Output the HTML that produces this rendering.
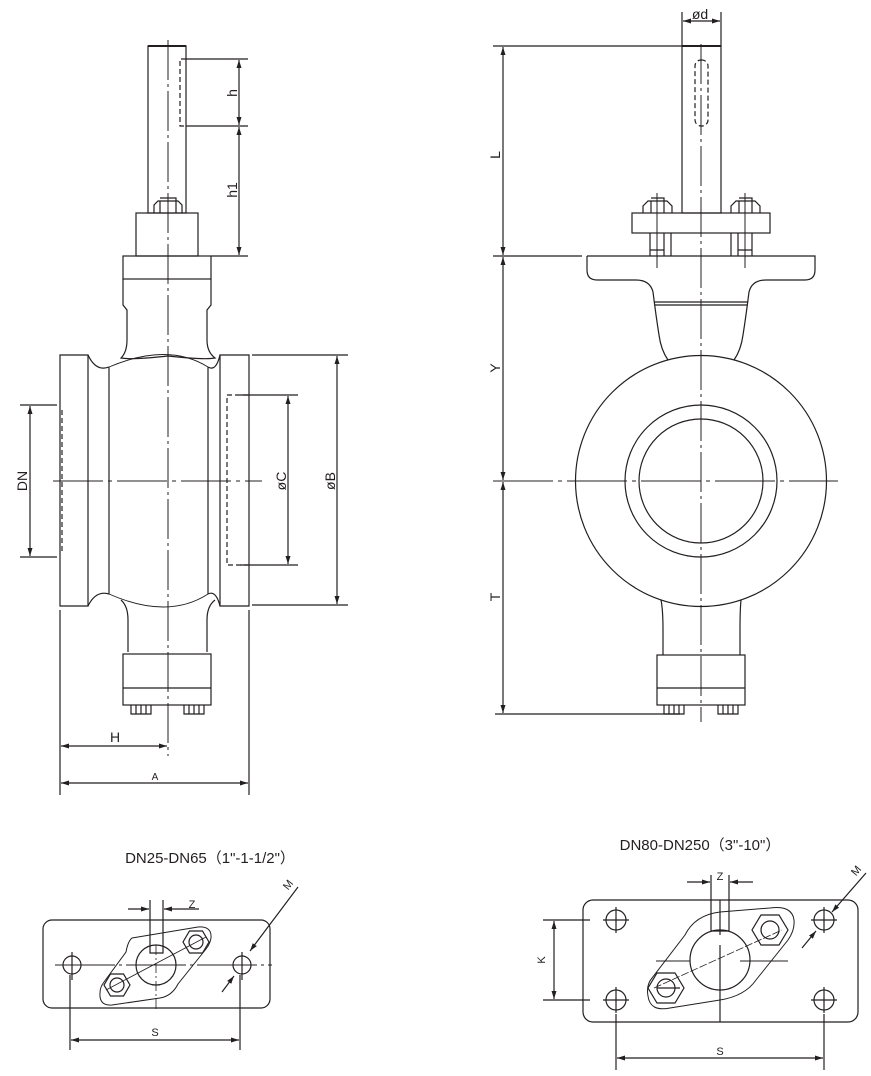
<!DOCTYPE html>
<html><head><meta charset="utf-8"><style>
html,body{margin:0;padding:0;background:#fff;}
svg{display:block;}
text{font-family:"Liberation Sans","Noto Sans CJK SC",sans-serif;fill:#231f20;}
</style></head><body>
<svg width="871" height="1076" viewBox="0 0 871 1076" xmlns="http://www.w3.org/2000/svg">
<defs>
<marker id="ar" markerWidth="8" markerHeight="6" refX="8" refY="3" orient="auto-start-reverse" markerUnits="userSpaceOnUse">
<path d="M0,0.5 L8,3 L0,5.5 z" fill="#231f20"/></marker>
</defs>
<g fill="none" stroke="#231f20" stroke-width="1.2">
<!-- ===== LEFT VIEW ===== -->
<line x1="168" y1="40" x2="168" y2="756" stroke-dasharray="40,4,3,4" stroke-width="1"/>
<line x1="53" y1="481" x2="262" y2="481" stroke-dasharray="50,5,4,5" stroke-width="1"/>
<rect x="148" y="46" width="38" height="167"/>
<line x1="148" y1="46" x2="186" y2="46" stroke-width="2"/>
<path d="M186,59 H180 V126 H186" stroke-dasharray="5,3"/>
<line x1="186" y1="59" x2="248" y2="59"/>
<line x1="186" y1="126" x2="248" y2="126"/>
<line x1="211" y1="256" x2="248" y2="256"/>
<line x1="239" y1="60" x2="239" y2="125" marker-start="url(#ar)" marker-end="url(#ar)"/>
<line x1="239" y1="127" x2="239" y2="255" marker-start="url(#ar)" marker-end="url(#ar)"/>
<path d="M154,213 V205 L158,201 H178 L182,205 V213 M160,201 V213 M176,201 V213 M160,198 H176 V201"/>
<rect x="136" y="213" width="62" height="43"/>
<rect x="123" y="256" width="88" height="23"/>
<path d="M123,279 V305 L127,310 V340 Q127,352 121,358 Q132,360 168,356 Q204,360 215,358 Q207,352 207,340 V310 L211,305 V279"/>
<!-- body -->
<path d="M60,355 H88 V606 H60 Z"/>
<path d="M220,355 H249 V606 H220 Z"/>
<path d="M88,355 Q96,372 109,367 M208,367 Q216,372 220,355"/>
<line x1="109" y1="367" x2="109" y2="594"/>
<line x1="208" y1="367" x2="208" y2="594"/>
<path d="M109,367 Q168,342 208,367" stroke-width="0.9"/>
<path d="M88,606 Q96,590 109,594 M208,594 Q216,590 220,606"/>
<path d="M109,594 Q168,620 208,594" stroke-width="0.9"/>
<path d="M121,600 Q128,606 128,620 V652 M215,600 Q207,606 207,620 V652"/>
<rect x="123" y="654" width="88" height="51"/>
<line x1="123" y1="688" x2="211" y2="688"/>
<path d="M131,705 V714 H151 V705 M136,705 V714 M141,705 V714 M146,705 V714"/>
<path d="M184,705 V714 H204 V705 M189,705 V714 M194,705 V714 M199,705 V714"/>
<path d="M62,410 V553" stroke-dasharray="5,3"/>
<path d="M248,395 H227 V565 H248" stroke-dasharray="5,3"/>
<!-- dims -->
<line x1="20" y1="405" x2="57" y2="405"/>
<line x1="20" y1="557" x2="57" y2="557"/>
<line x1="30" y1="406" x2="30" y2="556" marker-start="url(#ar)" marker-end="url(#ar)"/>
<line x1="240" y1="395" x2="298" y2="395"/>
<line x1="240" y1="565" x2="298" y2="565"/>
<line x1="288" y1="396" x2="288" y2="564" marker-start="url(#ar)" marker-end="url(#ar)"/>
<line x1="252" y1="355" x2="348" y2="355"/>
<line x1="252" y1="605" x2="348" y2="605"/>
<line x1="337" y1="356" x2="337" y2="604" marker-start="url(#ar)" marker-end="url(#ar)"/>
<line x1="60" y1="610" x2="60" y2="795"/>
<line x1="249" y1="610" x2="249" y2="795"/>
<line x1="61" y1="746" x2="167" y2="746" marker-start="url(#ar)" marker-end="url(#ar)"/>
<line x1="61" y1="783" x2="248" y2="783" marker-start="url(#ar)" marker-end="url(#ar)"/>

<!-- ===== RIGHT VIEW ===== -->
<line x1="701" y1="44" x2="701" y2="722" stroke-dasharray="40,4,3,4" stroke-width="1"/>
<line x1="493" y1="481" x2="838" y2="481" stroke-dasharray="60,5,4,5" stroke-width="1"/>
<rect x="682" y="46" width="39" height="167"/>
<line x1="682" y1="46" x2="721" y2="46" stroke-width="2"/>
<rect x="695" y="60" width="13" height="66" rx="6" stroke-dasharray="5,3"/>
<line x1="682" y1="12" x2="682" y2="46"/>
<line x1="721" y1="12" x2="721" y2="46"/>
<line x1="683" y1="21" x2="720" y2="21" marker-start="url(#ar)" marker-end="url(#ar)"/>
<line x1="493" y1="46" x2="682" y2="46"/>
<line x1="503" y1="47" x2="503" y2="255" marker-start="url(#ar)" marker-end="url(#ar)"/>
<line x1="493" y1="256" x2="582" y2="256"/>
<line x1="503" y1="257" x2="503" y2="480" marker-start="url(#ar)" marker-end="url(#ar)"/>
<line x1="503" y1="482" x2="503" y2="713" marker-start="url(#ar)" marker-end="url(#ar)"/>
<line x1="495" y1="714" x2="680" y2="714"/>
<rect x="632" y="213" width="138" height="20"/>
<path d="M643,213 V206 L648,201 H667 L672,206 V213 M651,201 V213 M664,201 V213 M651,198 H664 V201"/>
<path d="M731,213 V206 L736,201 H755 L760,206 V213 M739,201 V213 M752,201 V213 M739,198 H752 V201"/>
<line x1="657" y1="193" x2="657" y2="268" stroke-width="1"/>
<line x1="745" y1="193" x2="745" y2="268" stroke-width="1"/>
<path d="M650,233 V256 M664,233 V256 M671,233 V256 M650,250 H664"/>
<path d="M731,233 V256 M738,233 V256 M752,233 V256 M738,250 H752"/>
<path d="M587,256 H815 V270 Q815,280 805,280 H766 Q752,280 749,292 Q746,316 743,335 Q741,350 734,360"/>
<path d="M587,256 V270 Q587,280 597,280 H636 Q650,280 653,292 Q656,316 659,335 Q661,350 668,360"/>
<line x1="654" y1="302" x2="748" y2="302"/>
<line x1="655" y1="305" x2="747" y2="305"/>
<circle cx="701" cy="481" r="125.5"/>
<circle cx="701" cy="481" r="76"/>
<circle cx="701" cy="481" r="62"/>
<path d="M661,600 Q663,610 663,630 V655 M741,600 Q740,610 740,630 V655"/>
<rect x="657" y="655" width="88" height="50"/>
<line x1="657" y1="688" x2="745" y2="688"/>
<path d="M664,705 V714 H684 V705 M669,705 V714 M674,705 V714 M679,705 V714"/>
<path d="M718,705 V714 H738 V705 M723,705 V714 M728,705 V714 M733,705 V714"/>

<!-- ===== BOTTOM LEFT ===== -->
<rect x="43" y="920" width="227" height="88" rx="9"/>
<line x1="55" y1="965" x2="272" y2="965" stroke-dasharray="60,4,3,4" stroke-width="1"/>
<circle cx="72" cy="965" r="9"/><circle cx="242" cy="965" r="9"/>
<line x1="72" y1="952" x2="72" y2="980"/><line x1="242" y1="952" x2="242" y2="980"/>
<circle cx="156" cy="965" r="20"/>
<path d="M132,938 L198,927 Q212,926 211,938 Q210,944 206,949 L178,984 Q172,996 160,998 L112,1005 Q99,1006 100,993 Q100,987 104,982 L126,952 Q128,941 132,938 Z" stroke-width="1"/>
<polygon points="130,985 123.5,996 110.5,996 104,985 110.5,974 123.5,974"/><circle cx="117" cy="985" r="7"/>
<polygon points="209,942 202.5,953 189.5,953 183,942 189.5,931 202.5,931"/><circle cx="196" cy="942" r="7"/>
<line x1="106" y1="990" x2="206" y2="937" stroke-width="0.8"/>
<line x1="156" y1="945" x2="156" y2="1010" stroke-dasharray="10,3,2,3" stroke-width="0.8"/>
<path d="M150,900 V953 H163 V900"/>
<line x1="128" y1="909" x2="149" y2="909" marker-end="url(#ar)"/>
<line x1="199" y1="909" x2="164" y2="909" marker-end="url(#ar)"/>
<line x1="298" y1="887" x2="250" y2="951" marker-end="url(#ar)"/>
<line x1="222" y1="992" x2="234" y2="976" marker-end="url(#ar)"/>
<line x1="70" y1="975" x2="70" y2="1050"/>
<line x1="240" y1="975" x2="240" y2="1050"/>
<line x1="71" y1="1040" x2="239" y2="1040" marker-start="url(#ar)" marker-end="url(#ar)"/>

<!-- ===== BOTTOM RIGHT ===== -->
<rect x="583" y="900" width="275" height="122" rx="10"/>
<circle cx="616" cy="920" r="10"/><circle cx="616" cy="1000" r="10"/>
<circle cx="824" cy="920" r="10"/><circle cx="824" cy="1000" r="10"/>
<path d="M603,920 H629 M616,907 V933 M603,1000 H629 M616,987 V1013 M811,920 H837 M824,907 V933 M811,1000 H837 M824,987 V1013"/>
<circle cx="720" cy="960" r="30"/>
<path d="M770,908 Q792,905 794,920 Q795,930 788,940 L756,980 Q745,996 720,1000 L670,1008 Q650,1012 648,996 Q646,985 652,978 L685,935 Q695,915 720,912 Z" stroke-width="1"/>
<polygon points="684,988 675,1003 657,1003 648,988 657,973 675,973"/><circle cx="666" cy="988" r="9"/>
<polygon points="788,930 779,945 761,945 752,930 761,915 779,915"/><circle cx="770" cy="930" r="9"/>
<line x1="654" y1="988" x2="782" y2="930" stroke-dasharray="8,2" stroke-width="0.8"/>
<line x1="657" y1="988" x2="680" y2="988"/>
<path d="M656,961 H690 M740,961 H788" stroke-width="1"/>
<line x1="720" y1="945" x2="720" y2="1022"/>
<path d="M711,875 V931 H729 V875 M720,900 V935"/>
<line x1="687" y1="882" x2="710" y2="882" marker-end="url(#ar)"/>
<line x1="753" y1="882" x2="730" y2="882" marker-end="url(#ar)"/>
<line x1="543" y1="920" x2="590" y2="920"/>
<line x1="543" y1="1000" x2="590" y2="1000"/>
<line x1="554" y1="921" x2="554" y2="999" marker-start="url(#ar)" marker-end="url(#ar)"/>
<line x1="616" y1="1014" x2="616" y2="1070"/>
<line x1="824" y1="1014" x2="824" y2="1070"/>
<line x1="617" y1="1058" x2="823" y2="1058" marker-start="url(#ar)" marker-end="url(#ar)"/>
<line x1="866" y1="873" x2="832" y2="912" marker-end="url(#ar)"/>
<line x1="802" y1="948" x2="816" y2="931" marker-end="url(#ar)"/>
</g>
<!-- labels -->
<g font-size="14">
<text transform="translate(237,93) rotate(-90)" text-anchor="middle">h</text>
<text transform="translate(237,190) rotate(-90)" text-anchor="middle">h1</text>
<text transform="translate(27,481) rotate(-90)" text-anchor="middle">DN</text>
<text transform="translate(286,481) rotate(-90)" text-anchor="middle">øC</text>
<text transform="translate(335,481) rotate(-90)" text-anchor="middle">øB</text>
<text x="115" y="742" text-anchor="middle">H</text>
<text x="155" y="780" text-anchor="middle" font-size="10">A</text>
<text x="700" y="19" text-anchor="middle">ød</text>
<text transform="translate(500,155) rotate(-90)" text-anchor="middle">L</text>
<text transform="translate(500,368) rotate(-90)" text-anchor="middle">Y</text>
<text transform="translate(500,597) rotate(-90)" text-anchor="middle">T</text>
<text x="210" y="863" text-anchor="middle" font-size="15">DN25-DN65（1"-1-1/2"）</text>
<text x="700" y="850" text-anchor="middle" font-size="15">DN80-DN250（3"-10"）</text>
<text x="192" y="908" text-anchor="middle" font-size="11" font-family="Liberation Serif">Z</text>
<text transform="translate(291,887) rotate(-52)" text-anchor="middle" font-size="11" font-family="Liberation Serif">M</text>
<text x="155" y="1036" text-anchor="middle" font-size="11" font-family="Liberation Serif">S</text>
<text x="720" y="880" text-anchor="middle" font-size="11" font-family="Liberation Serif">Z</text>
<text transform="translate(545,960) rotate(-90)" text-anchor="middle" font-size="11" font-family="Liberation Serif">K</text>
<text x="720" y="1055" text-anchor="middle" font-size="11" font-family="Liberation Serif">S</text>
<text transform="translate(859,873) rotate(-50)" text-anchor="middle" font-size="11" font-family="Liberation Serif">M</text>
</g>
</svg>
</body></html>
